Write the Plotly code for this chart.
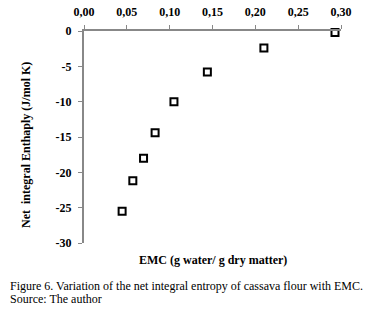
import plotly.graph_objects as go

emc = [0.293, 0.210, 0.144, 0.105, 0.083, 0.0695, 0.057, 0.0445]
enthalpy = [-0.2, -2.4, -5.8, -10.0, -14.4, -18.0, -21.2, -25.5]

x_ticks = [0, 0.05, 0.10, 0.15, 0.20, 0.25, 0.30]
x_tick_text = ["0,00", "0,05", "0,10", "0,15", "0,20", "0,25", "0,30"]
y_ticks = [0, -5, -10, -15, -20, -25, -30]
y_tick_text = ["0", "-5", "-10", "-15", "-20", "-25", "-30"]

FS = 12
tickfont = dict(family="Liberation Serif", size=FS, color="black", weight="bold")
plainfont = dict(family="Liberation Serif", size=FS, color="black")

fig = go.Figure()
fig.add_trace(go.Scatter(
    x=emc, y=enthalpy, mode="markers",
    marker=dict(symbol="square-open", size=7, color="black", line=dict(width=2, color="black")),
    showlegend=False, cliponaxis=False,
))

fig.update_layout(
    width=377, height=309,
    margin=dict(l=84, r=36, t=31, b=66, autoexpand=False),
    paper_bgcolor="white", plot_bgcolor="white",
    font=plainfont,
    xaxis=dict(
        range=[0, 0.30], side="top", tickvals=x_ticks, ticktext=x_tick_text,
        showgrid=False, zeroline=False, showline=True, linecolor="#888888", linewidth=2,
        ticks="outside", ticklen=4, tickcolor="#888888", ticklabelstandoff=4,
        tickfont=tickfont, automargin=False,
    ),
    yaxis=dict(
        range=[-30, 0], tickvals=y_ticks, ticktext=y_tick_text,
        showgrid=False, zeroline=False, showline=True, linecolor="#888888", linewidth=2,
        ticks="outside", ticklen=4, tickcolor="#888888", ticklabelstandoff=4,
        tickfont=tickfont, automargin=False,
    ),
    annotations=[
        dict(text="<b>Net  integral Enthaply (J/mol K)</b>", xref="paper", yref="paper",
             x=-0.226, y=0.462, textangle=-90, showarrow=False, font=plainfont,
             xanchor="center", yanchor="middle"),
        dict(text="<b>EMC (g water/ g dry matter)</b>", xref="paper", yref="paper",
             x=0.502, y=-0.08, showarrow=False, font=plainfont,
             xanchor="center", yanchor="middle"),
        dict(text="Figure 6. Variation of the net integral entropy of cassava flour with EMC.",
             xref="paper", yref="paper", x=-0.296, y=-0.203, showarrow=False, align="left",
             font=plainfont, xanchor="left", yanchor="middle"),
        dict(text="Source: The author",
             xref="paper", yref="paper", x=-0.296, y=-0.264, showarrow=False, align="left",
             font=plainfont, xanchor="left", yanchor="middle"),
    ],
)

fig.write_html("out.html", config={"displayModeBar": False},
               post_script="document.body.style.margin='0';")
